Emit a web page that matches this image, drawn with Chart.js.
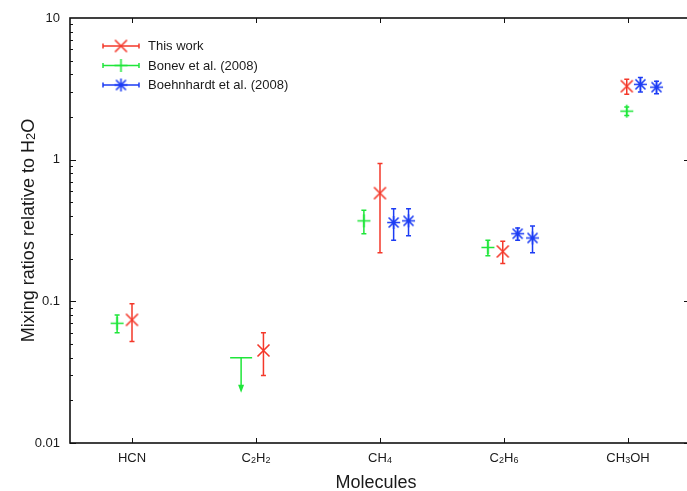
<!DOCTYPE html>
<html>
<head>
<meta charset="utf-8">
<script src="https://cdn.jsdelivr.net/npm/chart.js@4/dist/chart.umd.min.js"></script>
<style>
  html, body { margin: 0; padding: 0; background: #fff; overflow: hidden; }
  #wrap { width: 695px; height: 491px; }
</style>
</head>
<body>
<div id="wrap"><canvas id="c" width="695" height="491"></canvas></div>
<script>
// Molecules on the x axis (positions 1..5); digits after a letter are set as subscripts
const categories = ['HCN', 'C2H2', 'CH4', 'C2H6', 'CH3OH'];
const yTickValues = [0.01, 0.1, 1, 10];
const yTickLabels = ['0.01', '0.1', '1', '10'];
const xTitle = 'Molecules';
const yTitle = 'Mixing ratios relative to H2O';

// This work
const thisWorkX   = [1.00, 2.06, 3.00, 3.99, 4.99];
const thisWorkY   = [0.074, 0.045, 0.58, 0.225, 3.3];
const thisWorkErr = [0.022, 0.015, 0.36, 0.04, 0.4];

// Bonev et al. (2008)
const bonevX   = [0.88, 1.88, 2.87, 3.87, 4.99];
const bonevY   = [0.070, 0.040, 0.37, 0.24, 2.2];
const bonevErr = [0.010, 0, 0.07, 0.03, 0.15];
const bonevUpperLimit = [false, true, false, false, false];

// Boehnhardt et al. (2008)
const boehnhardtX   = [3.11, 3.23, 4.11, 4.23, 5.10, 5.23];
const boehnhardtY   = [0.36, 0.37, 0.30, 0.28, 3.4, 3.25];
const boehnhardtErr = [0.09, 0.08, 0.03, 0.06, 0.4, 0.33];

const RED = '#f4382a', GREEN = '#1fe63a', BLUE = '#1c3cf4';
const TEXT = '#1a1a1a';
const FONT = "'Liberation Sans', Arial, Helvetica, sans-serif";
Chart.defaults.font.family = FONT;

// Marker glyphs: x, plus and asterisk
function makeMarker(kind, color) {
  const s = 17, c = s / 2;
  const cv = document.createElement('canvas');
  cv.width = s; cv.height = s;
  const g = cv.getContext('2d');
  g.strokeStyle = color; g.lineWidth = 1.6; g.lineCap = 'butt';
  g.beginPath();
  if (kind === 'x') {
    const d = 6;
    g.moveTo(c - d, c - d); g.lineTo(c + d, c + d);
    g.moveTo(c - d, c + d); g.lineTo(c + d, c - d);
  } else if (kind === 'plus') {
    const d = 6.5;
    g.moveTo(c - d, c); g.lineTo(c + d, c);
    g.moveTo(c, c - d); g.lineTo(c, c + d);
  } else {
    const d = 6.5, e = 5;
    g.moveTo(c - d, c); g.lineTo(c + d, c);
    g.moveTo(c, c - d); g.lineTo(c, c + d);
    g.moveTo(c - e, c - e); g.lineTo(c + e, c + e);
    g.moveTo(c - e, c + e); g.lineTo(c + e, c - e);
  }
  g.stroke();
  return cv;
}
const markers = {
  red: makeMarker('x', RED),
  green: makeMarker('plus', GREEN),
  blue: makeMarker('star', BLUE)
};

function toPoints(xs, ys, errs, limits) {
  return xs.map((x, i) => ({ x: x, y: ys[i], err: errs[i], limit: limits ? limits[i] : false }));
}

// Text with chemical subscripts, centred on (x, baseline)
function drawRich(ctx, text, x, y, size) {
  const segs = [];
  for (let i = 0; i < text.length; i++) {
    const ch = text[i];
    const sub = /[0-9]/.test(ch) && i > 0 && /[A-Za-z]/.test(text[i - 1]);
    segs.push({ ch, sub });
  }
  const subSize = Math.round(size * 0.7);
  let w = 0;
  segs.forEach(s => {
    ctx.font = (s.sub ? subSize : size) + 'px ' + FONT;
    s.w = ctx.measureText(s.ch).width;
    w += s.w;
  });
  let cx = x - w / 2;
  ctx.textAlign = 'left';
  ctx.textBaseline = 'alphabetic';
  segs.forEach(s => {
    ctx.font = (s.sub ? subSize : size) + 'px ' + FONT;
    ctx.fillText(s.ch, cx, s.sub ? y + size * 0.1 : y);
    cx += s.w;
  });
}

// Category labels and axis titles
const labelPlugin = {
  id: 'labels',
  afterDraw(chart) {
    const { ctx, chartArea: a, scales } = chart;
    ctx.save();
    ctx.fillStyle = TEXT;
    categories.forEach((c, i) => {
      drawRich(ctx, c, scales.x.getPixelForValue(i + 1), a.bottom + 19, 13);
    });
    drawRich(ctx, xTitle, (a.left + a.right) / 2 - 4, 488, 18);
    ctx.translate(33.5, (a.top + a.bottom) / 2);
    ctx.rotate(-Math.PI / 2);
    drawRich(ctx, yTitle, 0, 0, 18);
    ctx.restore();
  }
};

// Frame with inward tick marks on all four sides
const framePlugin = {
  id: 'frame',
  afterDraw(chart) {
    const { ctx, chartArea: a, scales } = chart;
    const xs = scales.x, ys = scales.y;
    ctx.save();
    ctx.strokeStyle = '#111';
    ctx.lineWidth = 1;
    ctx.beginPath();
    for (let d = -2; d <= 0; d++) {
      for (let m = 1; m <= 9; m++) {
        const v = m * Math.pow(10, d);
        const y = Math.round(ys.getPixelForValue(v)) + 0.5;
        const len = m === 1 ? 6 : 3;
        ctx.moveTo(a.left, y); ctx.lineTo(a.left + len, y);
        ctx.moveTo(a.right, y); ctx.lineTo(a.right - len, y);
      }
    }
    categories.forEach((c, i) => {
      const x = Math.round(xs.getPixelForValue(i + 1)) + 0.5;
      ctx.moveTo(x, a.top); ctx.lineTo(x, a.top + 5);
      ctx.moveTo(x, a.bottom); ctx.lineTo(x, a.bottom - 5);
    });
    ctx.stroke();
    ctx.lineWidth = 1.6;
    ctx.strokeRect(a.left, a.top, a.right - a.left, a.bottom - a.top);
    ctx.restore();
  }
};

// Vertical error bars with end caps, plus the upper-limit arrow
const errorBarPlugin = {
  id: 'errorBars',
  beforeDatasetsDraw(chart) {
    const { ctx, scales } = chart;
    const xs = scales.x, ys = scales.y;
    ctx.save();
    chart.data.datasets.forEach(ds => {
      ctx.strokeStyle = ds.barColor;
      ctx.fillStyle = ds.barColor;
      ctx.lineWidth = 1.5;
      ds.data.forEach(p => {
        const x = xs.getPixelForValue(p.x);
        const y = ys.getPixelForValue(p.y);
        if (p.limit) {
          ctx.beginPath();
          ctx.moveTo(x - 11, y); ctx.lineTo(x + 11, y);
          ctx.moveTo(x, y); ctx.lineTo(x, y + 28);
          ctx.stroke();
          ctx.beginPath();
          ctx.moveTo(x - 3, y + 27); ctx.lineTo(x + 3, y + 27); ctx.lineTo(x, y + 35);
          ctx.closePath();
          ctx.fill();
          return;
        }
        if (!p.err) return;
        const yt = ys.getPixelForValue(p.y + p.err);
        const yb = ys.getPixelForValue(p.y - p.err);
        ctx.beginPath();
        ctx.moveTo(x, yt); ctx.lineTo(x, yb);
        ctx.moveTo(x - 2.5, yt); ctx.lineTo(x + 2.5, yt);
        ctx.moveTo(x - 2.5, yb); ctx.lineTo(x + 2.5, yb);
        ctx.stroke();
      });
    });
    ctx.restore();
  }
};

// Key in the upper left corner
const keyPlugin = {
  id: 'key',
  afterDraw(chart) {
    const { ctx } = chart;
    ctx.save();
    ctx.font = '13px ' + FONT;
    ctx.textBaseline = 'middle';
    ctx.textAlign = 'left';
    chart.data.datasets.forEach((ds, i) => {
      const y = 46 + i * 19.5, x0 = 103, x1 = 139, xm = (x0 + x1) / 2;
      ctx.strokeStyle = ds.barColor;
      ctx.lineWidth = 1.5;
      ctx.beginPath();
      ctx.moveTo(x0, y); ctx.lineTo(x1, y);
      ctx.moveTo(x0, y - 2.5); ctx.lineTo(x0, y + 2.5);
      ctx.moveTo(x1, y - 2.5); ctx.lineTo(x1, y + 2.5);
      ctx.stroke();
      const m = ds.pointStyle;
      ctx.drawImage(m, xm - m.width / 2, y - m.height / 2);
      ctx.fillStyle = TEXT;
      ctx.fillText(ds.label, 148, y + 0.5);
    });
    ctx.restore();
  }
};

new Chart(document.getElementById('c'), {
  type: 'scatter',
  data: {
    datasets: [
      {
        label: 'This work',
        data: toPoints(thisWorkX, thisWorkY, thisWorkErr),
        pointStyle: markers.red, barColor: RED,
        borderColor: RED, backgroundColor: RED
      },
      {
        label: 'Bonev et al. (2008)',
        data: toPoints(bonevX, bonevY, bonevErr, bonevUpperLimit),
        pointStyle: markers.green, barColor: GREEN,
        borderColor: GREEN, backgroundColor: GREEN,
        pointRadius: ctx => (ctx.raw && ctx.raw.limit) ? 0 : 3
      },
      {
        label: 'Boehnhardt et al. (2008)',
        data: toPoints(boehnhardtX, boehnhardtY, boehnhardtErr),
        pointStyle: markers.blue, barColor: BLUE,
        borderColor: BLUE, backgroundColor: BLUE
      }
    ]
  },
  options: {
    responsive: false,
    animation: false,
    devicePixelRatio: 1,
    layout: { padding: { top: 18, right: 3, left: 0, bottom: 0 } },
    plugins: { legend: { display: false }, tooltip: { enabled: false } },
    scales: {
      x: {
        type: 'linear', min: 0.5, max: 5.5,
        afterBuildTicks: s => { s.ticks = categories.map((c, i) => ({ value: i + 1 })); },
        afterFit: s => { s.height = 48; },
        ticks: { display: false },
        grid: { display: false, drawTicks: false },
        border: { display: false }
      },
      y: {
        type: 'logarithmic', min: 0.01, max: 10,
        afterBuildTicks: s => { s.ticks = yTickValues.map(v => ({ value: v })); },
        afterFit: s => { s.width = 70; },
        ticks: {
          callback: v => yTickLabels[yTickValues.indexOf(v)],
          font: { size: 13 }, color: TEXT, padding: 10
        },
        grid: { display: false, drawTicks: false },
        border: { display: false }
      }
    }
  },
  plugins: [framePlugin, errorBarPlugin, keyPlugin, labelPlugin]
});
</script>
</body>
</html>
